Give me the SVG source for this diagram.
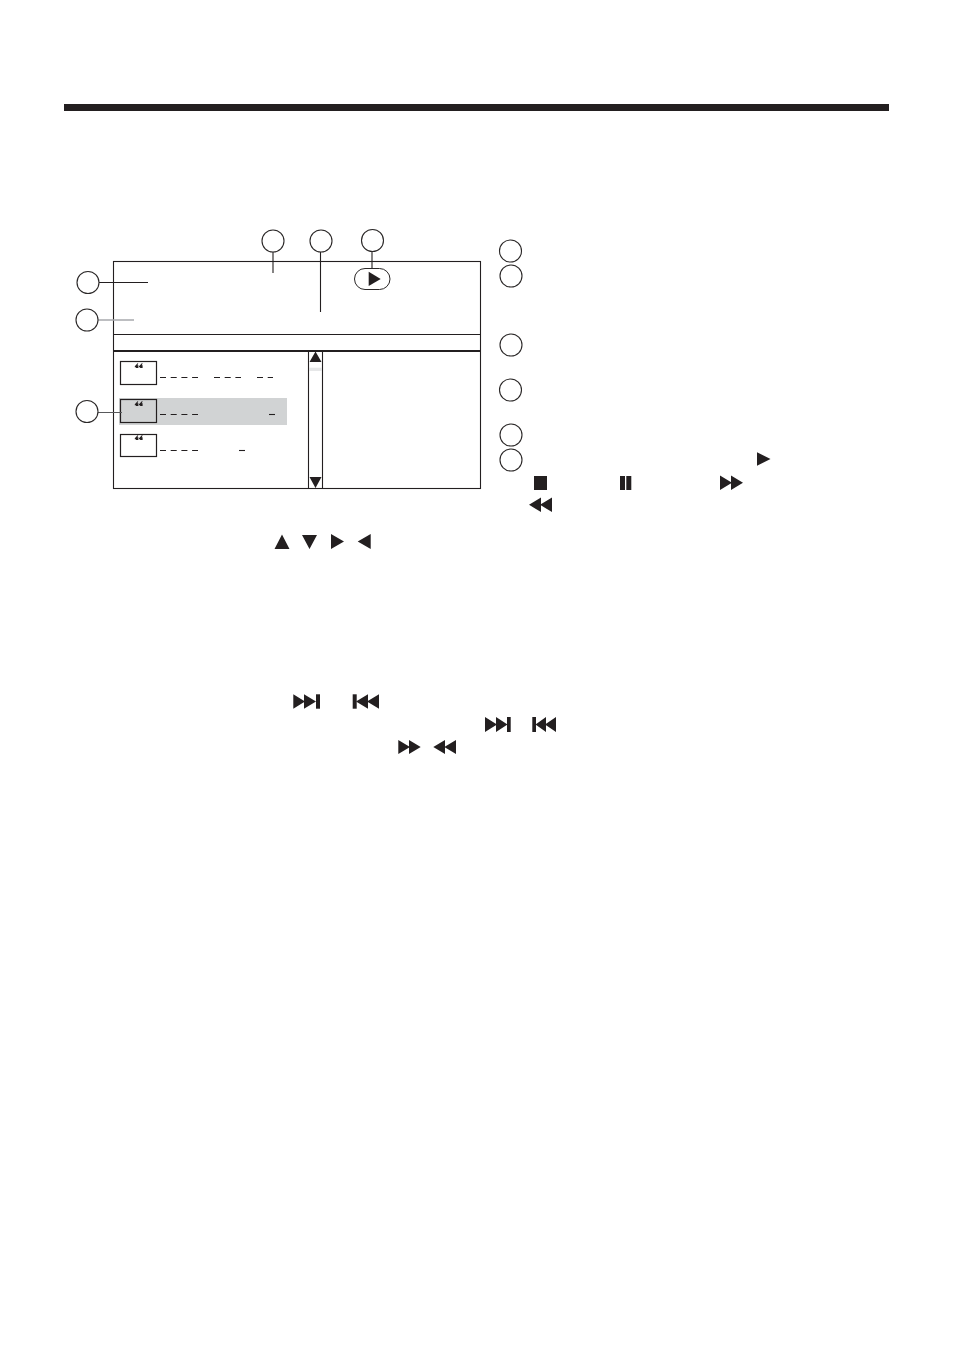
<svg xmlns="http://www.w3.org/2000/svg" width="954" height="1351" viewBox="0 0 954 1351">
<style>
.c{fill:none;stroke:#2a2727;stroke-width:1.1}
.l{fill:none;stroke:#231f20;stroke-width:1.1}
.k{fill:#231f20}
.b{fill:#fff;stroke:#231f20;stroke-width:1.2}
.h{fill:#d1d3d4;stroke:#231f20;stroke-width:1.2}
.d{fill:none;stroke:#231f20;stroke-width:1.1;stroke-dasharray:6 4.7}
.s{fill:none;stroke:#231f20;stroke-width:1.1}
</style>
<defs>
<path id="q" class="k" d="M134.800 366.200L137.600 363.200H138.300L137.400 365.300H138.400V368H135.900V367.200H134.800zM139 366.200L141.800 363.200H142.700L141.700 365.300H142.600V368H140.100V367.200H139z"/>
<path id="ff" class="k" d="M0 0l12 7.300-12 7.300zM11 0l12 7.300-12 7.300z"/>
</defs>
<rect id="top-bar" x="64" y="104" width="825" height="7" class="k"/>
<g id="screen">
<rect x="113.500" y="261.500" width="367" height="227" fill="none" stroke="#231f20" stroke-width="1.100"/>
<path class="l" d="M113.500 334.500H480.500"/>
<path d="M113 351H481" fill="none" stroke="#231f20" stroke-width="2"/>
<path class="l" d="M308.500 351V488.500M322.500 351V488.500"/>
</g>
<g id="scrollbar">
<rect x="309" y="367.700" width="13" height="3.300" fill="#e6e7e8"/>
<path class="k" d="M315.500 351.500L321.500 362H309.500zM309.500 477H321.500L315.500 488z"/>
</g>
<g id="play-pill">
<rect x="354.500" y="268.500" width="35.500" height="21" rx="10.500" fill="#fff" stroke="#2a2727" stroke-width="1"/>
<path class="k" d="M368.700 271.700L380.700 279 368.700 286z"/>
</g>
<g id="row-1">
<rect x="120.500" y="361.500" width="36" height="23" class="b"/>
<use href="#q"/>
<path class="d" d="M160 377.500H198"/><path class="d" d="M214 377.500H241"/><path class="d" d="M257 377.500H273"/>
</g>
<g id="row-2">
<rect x="119" y="398" width="168" height="27" fill="#d1d3d4"/>
<rect x="120.500" y="399.500" width="36" height="23" class="h"/>
<use href="#q" y="38"/>
<path class="d" d="M160 414.500H198"/><path class="s" d="M269 414.500H275"/>
</g>
<g id="row-3">
<rect x="120.500" y="434.500" width="36" height="22" class="b"/>
<use href="#q" y="72"/>
<path class="d" d="M160 450.500H198"/><path class="s" d="M239 450.500H245"/>
</g>
<g id="connectors">
<path class="l" d="M273 252V273M320.500 252V312M372 251V268M99 282.500H148"/>
<path d="M98 320H134" fill="none" stroke="#a7a9ac" stroke-width="1.500"/>
<path d="M98 412.500H122" fill="none" stroke="#58595b" stroke-width="1"/>
</g>
<g id="callout-1"><circle class="c" cx="273" cy="241" r="11"/></g>
<g id="callout-2"><circle class="c" cx="321" cy="241" r="11"/></g>
<g id="callout-3"><circle class="c" cx="372.500" cy="240.500" r="11"/></g>
<g id="callout-4"><circle class="c" cx="88" cy="282.500" r="11"/></g>
<g id="callout-5"><circle class="c" cx="87" cy="320" r="11"/></g>
<g id="callout-6"><circle class="c" cx="87" cy="411.500" r="11"/></g>
<g id="key-1"><circle class="c" cx="510.500" cy="251" r="11"/></g>
<g id="key-2"><circle class="c" cx="511" cy="276" r="11"/></g>
<g id="key-3"><circle class="c" cx="511" cy="345" r="11"/></g>
<g id="key-4"><circle class="c" cx="510.500" cy="390" r="11"/></g>
<g id="key-5"><circle class="c" cx="511" cy="435" r="11"/></g>
<g id="key-6"><circle class="c" cx="511" cy="460" r="11"/></g>
<g id="key-icons">
<path class="k" d="M757 452.300L770.500 459 757 465.700z"/>
<rect x="534" y="476" width="13" height="14" class="k"/>
<rect x="620" y="476" width="5" height="14" class="k"/><rect x="626.300" y="476" width="5" height="14" class="k"/>
<use href="#ff" x="720" y="475.500"/>
<use href="#ff" transform="translate(552 497.500) scale(-1 1)"/>
</g>
<g id="arrow-icons">
<path class="k" d="M282 534.500L289.500 549H274.500zM302 535H317L309.500 549zM331 534L344 541.500 331 549zM370.700 534V549L357.700 541.500z"/>
</g>
<g id="skip-icons">
<g id="next-1"><path class="k" d="M293.300 694.300L305 701.500 293.300 708.700zM304 694.300L316 701.500 304 708.700z"/><rect x="316" y="694.300" width="4" height="14.400" class="k"/></g>
<g id="prev-1"><rect x="352.700" y="694.300" width="4" height="14.400" class="k"/><path class="k" d="M379 694.300L367 701.500 379 708.700zM368 694.300L356 701.500 368 708.700z"/></g>
<g id="next-2"><path class="k" d="M485 717L497 724.500 485 732zM496 717L507.500 724.500 496 732z"/><rect x="507" y="717" width="3.700" height="15" class="k"/></g>
<g id="prev-2"><rect x="532.300" y="717" width="3.700" height="15" class="k"/><path class="k" d="M556 717L545 724.500 556 732zM546 717L535.500 724.500 546 732z"/></g>
<g id="ff-1"><path class="k" d="M398.300 740L410 747 398.300 754zM409 740L420.700 747 409 754z"/></g>
<g id="rw-1"><path class="k" d="M445 740L433.300 747 445 754zM456 740L444.300 747 456 754z"/></g>
</g>
</svg>
